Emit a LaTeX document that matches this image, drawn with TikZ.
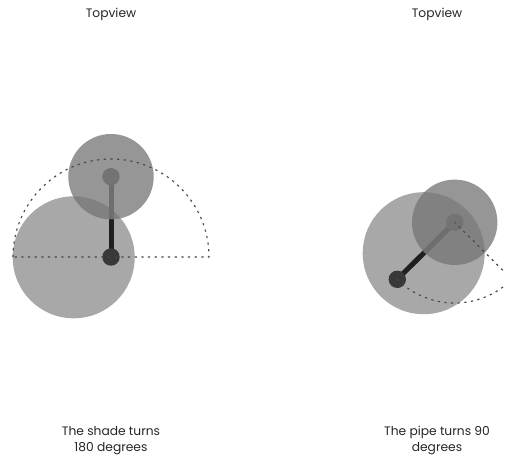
\documentclass[tikz,border=0pt]{standalone}
\usepackage{fontspec}
\setmainfont{Poppins}
\definecolor{shadegray}{gray}{0.463}
\tikzset{
  x=0.75pt,y=-0.75pt,
  big/.style={fill=black,fill opacity=.34},
  shade/.style={fill=shadegray,fill opacity=.765},
  pipe/.style={line width=3.75pt,draw=black!88},
  pipetop/.style={line width=3.75pt,draw=black!57},
  hub/.style={fill=black!78},
  knob/.style={fill=black!55},
  track/.style={draw=black!72,line width=0.85pt,dash pattern=on 1.7pt off 3.3pt},
  lbl/.style={font=\fontsize{9.2pt}{12.4pt}\selectfont,text=black!85,align=center,inner sep=0pt},
}
\begin{document}
\begin{tikzpicture}
\useasboundingbox (0,0) rectangle (505,458);
\clip (0,0) rectangle (505,458);
\fill[white] (0,0) rectangle (505,458);
\node[lbl] (t1) at (111,14) {Topview};
\node[lbl] (t2) at (437,14) {Topview};
\node[lbl] (c1) at (111,440.5) {The shade turns\\180 degrees};
\node[lbl] (c2) at (437,440.5) {The pipe turns 90\\degrees};
% left
\fill[big] (73.7,257.3) circle (61);
\draw[pipe] (111,257) -- (111,176.7);
\fill[hub] (111,257) circle (8.7);
\fill[shade] (111,176.7) circle (42.7);
\draw[pipetop] (111,176.7) -- (111,219.2);
\fill[knob] (111,176.7) circle (8.7);
\draw[track] (13,257) arc[start angle=180,end angle=360,radius=98] -- cycle;
% right
\fill[big] (423.7,253.2) circle (61);
\draw[pipe] (397.3,279.3) -- (454.7,222.3);
\fill[hub] (397.3,279.3) circle (8.7);
\fill[shade] (454.7,222.3) circle (42.7);
\draw[pipetop] (454.7,222.3) -- (424.5,252.3);
\fill[knob] (454.7,222.3) circle (8.7);
\draw[track] (397.3,279.3) arc[start angle=135,end angle=45,radius=81] -- (454.7,222.3);
\end{tikzpicture}
\end{document}
